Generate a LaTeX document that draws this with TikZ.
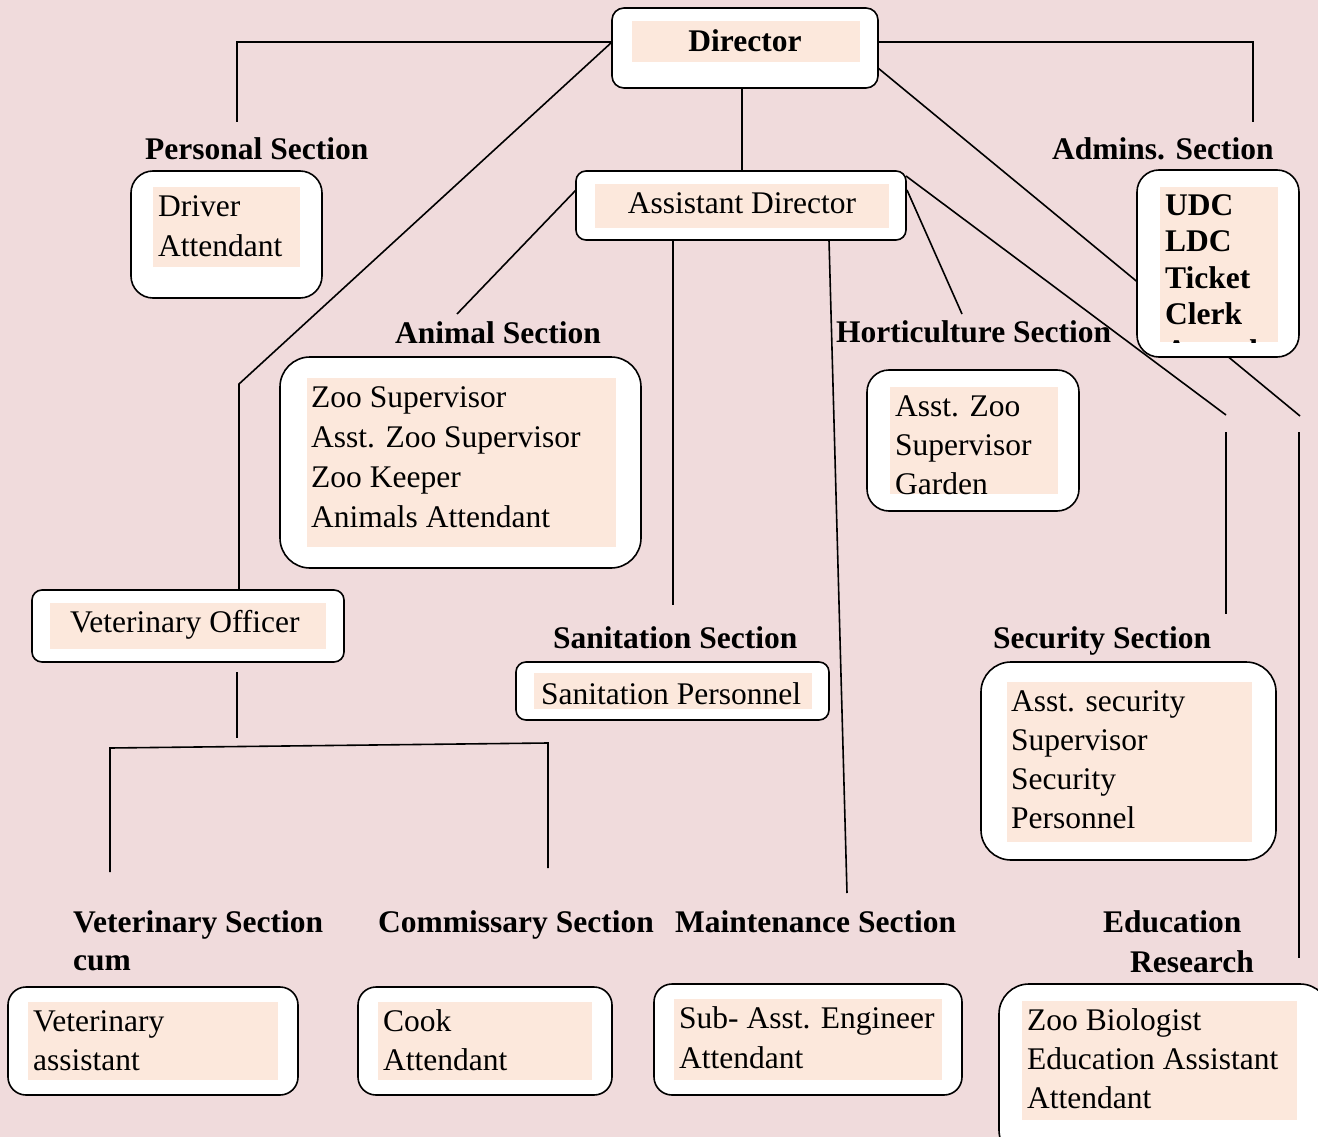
\documentclass[tikz,border=0pt]{standalone}
\usepackage{fontspec}
\setmainfont{Liberation Serif}
\definecolor{bgpink}{RGB}{240,219,220}
\definecolor{peach}{RGB}{252,232,220}
\begin{document}
\begin{tikzpicture}[x=1pt,y=-1pt,
  outer/.style={draw=black, line width=1.6pt, fill=white, inner sep=0pt, outer sep=0pt},
  inner/.style={fill=peach, draw=none, inner sep=0pt, outer sep=0pt},
  txt/.style={font=\fontsize{31.5}{38}\selectfont, inner sep=0pt, anchor=base west},
  head/.style={font=\fontsize{31.5}{38}\selectfont\bfseries, inner sep=0pt, anchor=base west},
  link/.style={line width=1.6pt, draw=black, line join=miter}]
\useasboundingbox (0,0) rectangle (1318,1137);
\fill[bgpink] (0,0) rectangle (1318,1137);

% attachment coordinates
\coordinate (dirL) at (612,42);
\coordinate (dirR) at (878,42);
\coordinate (dirRd) at (878,68);
\coordinate (dirB) at (742,88);
\coordinate (adT) at (742,171);
\coordinate (adL) at (576,190);
\coordinate (adR1) at (906,176);
\coordinate (adR2) at (907,190);
\coordinate (adB1) at (673,240);
\coordinate (adB2) at (829,240);
\coordinate (persEnd) at (237,122);
\coordinate (persK) at (237,42);
\coordinate (admEnd) at (1253,122);
\coordinate (admK) at (1253,42);
\coordinate (vetK) at (239,384);
\coordinate (voT) at (239,590);
\coordinate (eduA) at (1300,416);
\coordinate (eduB) at (1299,432);
\coordinate (eduEnd) at (1299,958);
\coordinate (secA) at (1226,415);
\coordinate (secB) at (1226,432);
\coordinate (secEnd) at (1226,614);
\coordinate (horEnd) at (962,314);
\coordinate (aniEnd) at (457,314);
\coordinate (sanEnd) at (673,605);
\coordinate (mntEnd) at (847,893);
\coordinate (voB) at (237,672);
\coordinate (voBar) at (237,738);
\coordinate (barL) at (110,748);
\coordinate (barR) at (548,743);
\coordinate (vsEnd) at (110,872);
\coordinate (cmEnd) at (548,868);

% connectors
\draw[link] (dirL) -- (persK) -- (persEnd);
\draw[link] (dirL) -- (vetK) -- (voT);
\draw[link] (dirR) -- (admK) -- (admEnd);
\draw[link] (dirRd) -- (eduA);
\draw[link] (eduB) -- (eduEnd);
\draw[link] (dirB) -- (adT);
\draw[link] (adR1) -- (secA);
\draw[link] (secB) -- (secEnd);
\draw[link] (adR2) -- (horEnd);
\draw[link] (adL) -- (aniEnd);
\draw[link] (adB1) -- (sanEnd);
\draw[link] (adB2) -- (mntEnd);
\draw[link] (voB) -- (voBar);
\draw[link] (vsEnd) -- (barL) -- (barR) -- (cmEnd);

% boxes
\node[outer, rounded corners=12pt, minimum width=266pt, minimum height=80pt] (dir) at (745,48) {};
\node[inner, minimum width=228pt, minimum height=41pt] (dirp) at (746,41.5) {};
\node[outer, rounded corners=10pt, minimum width=330pt, minimum height=69pt] (ad) at (741,205.5) {};
\node[inner, minimum width=294pt, minimum height=44pt] (adp) at (742,206) {};
\node[outer, rounded corners=22pt, minimum width=191pt, minimum height=127pt] (pers) at (226.5,234.5) {};
\node[inner, minimum width=147pt, minimum height=80pt] (persp) at (226.5,227) {};
\node[outer, rounded corners=22pt, minimum width=162pt, minimum height=187pt] (adm) at (1218,263.5) {};
\node[inner, minimum width=118pt, minimum height=155pt] (admp) at (1219,264.5) {};
\node[outer, rounded corners=30pt, minimum width=361pt, minimum height=211pt] (ani) at (460.5,462.5) {};
\node[inner, minimum width=309pt, minimum height=169pt] (anip) at (461.5,462.5) {};
\node[outer, rounded corners=22pt, minimum width=212pt, minimum height=141pt] (hor) at (973,440.5) {};
\node[inner, minimum width=168pt, minimum height=107pt] (horp) at (974,440.5) {};
\node[outer, rounded corners=10pt, minimum width=312pt, minimum height=72pt] (vo) at (188,626) {};
\node[inner, minimum width=276pt, minimum height=46pt] (vop) at (188,626) {};
\node[outer, rounded corners=10pt, minimum width=313pt, minimum height=58pt] (san) at (672.5,691) {};
\node[inner, minimum width=278pt, minimum height=36pt] (sanp) at (673,691) {};
\node[outer, rounded corners=30pt, minimum width=295pt, minimum height=198pt] (sec) at (1128.5,761) {};
\node[inner, minimum width=245pt, minimum height=160pt] (secp) at (1129.5,762) {};
\node[outer, rounded corners=18pt, minimum width=290pt, minimum height=108pt] (vs) at (153,1041) {};
\node[inner, minimum width=250pt, minimum height=78pt] (vsp) at (153,1041) {};
\node[outer, rounded corners=18pt, minimum width=254pt, minimum height=108pt] (cm) at (485,1041) {};
\node[inner, minimum width=214pt, minimum height=78pt] (cmp) at (485,1041) {};
\node[outer, rounded corners=18pt, minimum width=308pt, minimum height=111pt] (mnt) at (808,1039.5) {};
\node[inner, minimum width=268pt, minimum height=81pt] (mntp) at (808,1039.5) {};
\node[outer, rounded corners=30pt, minimum width=331pt, minimum height=176pt] (edu) at (1164.5,1072) {};
\node[inner, minimum width=275pt, minimum height=119pt] (edup) at (1159.5,1060.5) {};

% headings
\node[head, anchor=base] (tdir) at (745,52) {Director};
\node[txt, anchor=base] (tad) at (742,213) {Assistant Director};
\node[head] (hpers) at (145,160) {Personal Section};
\node[head] (hadm) at (1052,160) {Admins. Section};
\node[head] (hani) at (395,343) {Animal Section};
\node[head] (hhor) at (836,342) {Horticulture Section};
\node[txt] (tvo) at (70,632) {Veterinary Officer};
\node[head] (hsan) at (553,648) {Sanitation Section};
\node[txt] (tsan) at (541,704) {Sanitation Personnel};
\node[head] (hsec) at (993,648) {Security Section};
\node[head] (hvs1) at (73,932) {Veterinary Section};
\node[head] (hvs2) at (73,970) {cum};
\node[head] (hcm) at (378,932) {Commissary Section};
\node[head] (hmnt) at (675,932) {Maintenance Section};
\node[head] (hedu1) at (1103,932) {Education};
\node[head] (hedu2) at (1130,972) {Research};

% box contents
\foreach \t [count=\i] in {Driver, Attendant}
  \node[txt] (pers\i) at (158,{216+40*(\i-1)}) {\t};
\begin{scope}
  \clip (1160,187) rectangle (1278,342);
  \foreach \t [count=\i] in {UDC, LDC, Ticket, Clerk, Attendant}
    \node[head] (adm\i) at (1165,{215+36.5*(\i-1)}) {\t};
\end{scope}
\foreach \t [count=\i] in {Zoo Supervisor, Asst. Zoo Supervisor, Zoo Keeper, Animals Attendant}
  \node[txt] (ani\i) at (311,{407+40*(\i-1)}) {\t};
\foreach \t [count=\i] in {Asst. Zoo, Supervisor, Garden}
  \node[txt] (hor\i) at (895,{416+39*(\i-1)}) {\t};
\foreach \t [count=\i] in {Asst. security, Supervisor, Security, Personnel}
  \node[txt] (sec\i) at (1011,{711+39.3*(\i-1)}) {\t};
\foreach \t [count=\i] in {Veterinary, assistant}
  \node[txt] (vs\i) at (33,{1031+39*(\i-1)}) {\t};
\foreach \t [count=\i] in {Cook, Attendant}
  \node[txt] (cm\i) at (383,{1031+39*(\i-1)}) {\t};
\foreach \t [count=\i] in {Sub- Asst. Engineer, Attendant}
  \node[txt] (mnt\i) at (679,{1028+40*(\i-1)}) {\t};
\foreach \t [count=\i] in {Zoo Biologist, Education Assistant, Attendant}
  \node[txt] (edu\i) at (1027,{1030+39*(\i-1)}) {\t};
\end{tikzpicture}
\end{document}
